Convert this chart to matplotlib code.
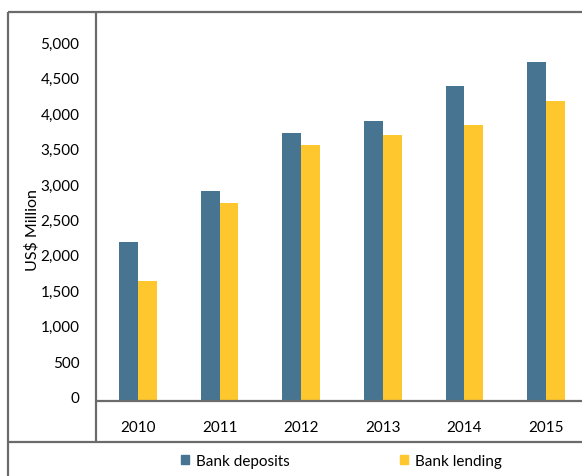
import matplotlib
matplotlib.use("Agg")
import matplotlib.pyplot as plt
import matplotlib.transforms as mtransforms
from matplotlib.lines import Line2D
from matplotlib.patches import Patch
import numpy as np

years = ["2010", "2011", "2012", "2013", "2014", "2015"]
bank_deposits = [2250, 2970, 3790, 3950, 4440, 4790]
bank_lending = [1700, 2800, 3620, 3750, 3890, 4240]
y_ticks = [0, 500, 1000, 1500, 2000, 2500, 3000, 3500, 4000, 4500, 5000]
series_names = ["Bank deposits", "Bank lending"]

DEP_COLOR = "#477491"
LEND_COLOR = "#FDC72D"
FRAME = "#6b6b6b"
FONT = "Lato"

W, H = 582, 477
fig = plt.figure(figsize=(W / 100, H / 100), dpi=100)

# plot area: left edge x=96, baseline y=402, top y=13
ax = fig.add_axes([96 / W, (H - 402) / H, (W - 96) / W, (402 - 13) / H])

x = np.arange(len(years))
bw = 0.23
ax.bar(x - bw / 2, bank_deposits, bw, color=DEP_COLOR, label=series_names[0])
ax.bar(x + bw / 2, bank_lending, bw, color=LEND_COLOR, label=series_names[1])

ax.set_xlim(-0.515, 5.441)
ax.set_ylim(0, 5491)
ax.set_yticks(y_ticks)
ax.set_yticklabels([f"{v:,}" for v in y_ticks], fontfamily=FONT, fontsize=11)
ax.set_xticks(x)
ax.set_xticklabels(years, fontfamily=FONT, fontsize=11)
ax.tick_params(axis="both", length=0)
ax.tick_params(axis="y", pad=12)
ax.tick_params(axis="x", pad=14)
for lbl in ax.get_yticklabels():
    lbl.set_transform(lbl.get_transform() + mtransforms.ScaledTranslation(0, 4.5 / 100, fig.dpi_scale_trans))
for s in ax.spines.values():
    s.set_visible(False)

ax.set_ylabel("US$ Million", fontfamily=FONT, fontsize=11.5)
ax.yaxis.set_label_coords(-57 / (W - 96), (402 - 230) / (402 - 13))

# table-style frame lines
def fline(x0, y0, x1, y1):
    fig.add_artist(Line2D([x0 / W, x1 / W], [1 - y0 / H, 1 - y1 / H],
                          transform=fig.transFigure, color=FRAME, lw=1.6,
                          solid_capstyle="butt"))

fline(8, 13, W, 13)
fline(8, 13, 8, H)
fline(96, 13, 96, 443)
fline(96, 402, W, 402)
fline(8, 443, W, 443)

handles = [Patch(color=DEP_COLOR), Patch(color=LEND_COLOR)]
fig.legend(handles, series_names, loc="center", bbox_to_anchor=(341.5 / W, 1 - 462 / H),
           ncol=2, frameon=False, handlelength=0.5, handleheight=0.5,
           handletextpad=0.5, columnspacing=7.2,
           prop={"family": FONT, "size": 11})

fig.savefig("out.png", dpi=100)
